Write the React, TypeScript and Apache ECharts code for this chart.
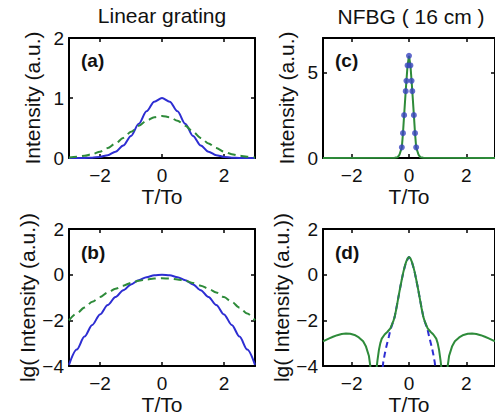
import React, { useEffect, useRef } from 'react';
import * as echarts from 'echarts';

// ---------- data ----------
const T_AB = [-3, -2.75, -2.5, -2.25, -2, -1.75, -1.5, -1.25, -1, -0.75, -0.5, -0.25, 0, 0.25, 0.5, 0.75, 1, 1.25, 1.5, 1.75, 2, 2.25, 2.5, 2.75, 3];
const BLUE_A = [0.0001, 0.0005, 0.002, 0.006, 0.018, 0.047, 0.105, 0.21, 0.368, 0.57, 0.779, 0.939, 1, 0.939, 0.779, 0.57, 0.368, 0.21, 0.105, 0.047, 0.018, 0.006, 0.002, 0.0005, 0.0001];
const GREEN_A = [0.01, 0.02, 0.037, 0.064, 0.106, 0.165, 0.242, 0.335, 0.437, 0.537, 0.622, 0.68, 0.7, 0.68, 0.622, 0.537, 0.437, 0.335, 0.242, 0.165, 0.106, 0.064, 0.037, 0.02, 0.01];
const BLUE_B = [-3.95, -3.28, -2.71, -2.2, -1.74, -1.33, -0.98, -0.68, -0.43, -0.24, -0.11, -0.03, 0, -0.03, -0.11, -0.24, -0.43, -0.68, -0.98, -1.33, -1.74, -2.2, -2.71, -3.28, -3.95];
const GREEN_B = [-2, -1.7, -1.44, -1.19, -0.98, -0.78, -0.62, -0.48, -0.36, -0.27, -0.21, -0.17, -0.155, -0.17, -0.21, -0.27, -0.36, -0.48, -0.62, -0.78, -0.98, -1.19, -1.44, -1.7, -2];

const T_C = [-3, -0.5, -0.4, -0.33, -0.25, -0.21, -0.17, -0.115, -0.09, -0.05, 0, 0.05, 0.09, 0.115, 0.17, 0.21, 0.25, 0.33, 0.4, 0.5, 3];
const GREEN_C = [0, 0.01, 0.04, 0.2, 0.62, 1.45, 2.5, 3.9, 4.5, 5.4, 5.96, 5.4, 4.5, 3.9, 2.5, 1.45, 0.62, 0.2, 0.04, 0.01, 0];
const T_DOTS = [-0.25, -0.21, -0.17, -0.115, -0.09, -0.05, 0, 0.05, 0.09, 0.115, 0.17, 0.21, 0.25];
const DOTS_C = [0.62, 1.45, 2.5, 3.9, 4.5, 5.4, 5.96, 5.4, 4.5, 3.9, 2.5, 1.45, 0.62];

const T_D = [-3, -2.8, -2.65, -2.5, -2.35, -2.2, -2.05, -1.9, -1.75, -1.6, -1.5, -1.4, -1.35, -1.3, -1.2, -1.15, -1.1, -1.05, -1, -0.95, -0.85, -0.75, -0.65, -0.55, -0.5, -0.45, -0.4, -0.35, -0.3, -0.25, -0.2, -0.15, -0.1, -0.05, 0,
  0.05, 0.1, 0.15, 0.2, 0.25, 0.3, 0.35, 0.4, 0.45, 0.5, 0.55, 0.65, 0.75, 0.85, 0.95, 1, 1.05, 1.1, 1.15, 1.2, 1.3, 1.35, 1.4, 1.5, 1.6, 1.75, 1.9, 2.05, 2.2, 2.35, 2.5, 2.65, 2.8, 3];
const GREEN_D = [-2.92, -2.8, -2.72, -2.65, -2.6, -2.58, -2.59, -2.64, -2.75, -2.92, -3.15, -3.55, -4, -4.8, -5, -4.3, -3.75, -3.3, -3, -2.8, -2.62, -2.5, -2.35, -2.05, -1.85, -1.55, -1.2, -0.85, -0.52, -0.2, 0.1, 0.36, 0.56, 0.71, 0.78,
  0.71, 0.56, 0.36, 0.1, -0.2, -0.52, -0.85, -1.2, -1.55, -1.85, -2.05, -2.35, -2.5, -2.62, -2.8, -3, -3.3, -3.75, -4.3, -5, -4.8, -4, -3.55, -3.15, -2.92, -2.75, -2.64, -2.59, -2.58, -2.6, -2.65, -2.72, -2.8, -2.92];
const T_D_BLUE = [-0.95, -0.9, -0.85, -0.8, -0.75, -0.7, -0.65, -0.55, -0.5, -0.4, -0.3, -0.2, -0.1, 0, 0.1, 0.2, 0.3, 0.4, 0.5, 0.55, 0.65, 0.7, 0.75, 0.8, 0.85, 0.9, 0.95];
const BLUE_D = [-4.5, -3.85, -3.5, -3.2, -2.95, -2.7, -2.42, -2.05, -1.85, -1.2, -0.52, 0.1, 0.56, 0.78, 0.56, 0.1, -0.52, -1.2, -1.85, -2.05, -2.42, -2.7, -2.95, -3.2, -3.5, -3.85, -4.5];

const X_TICKS = [-2, 0, 2];
const TITLES = ['Linear grating', 'NFBG ( 16 cm )'];
const PANEL_LABELS = ['(a)', '(c)', '(b)', '(d)'];

// ---------- styling ----------
const FONT = 'Liberation Sans, Arial, Helvetica, sans-serif';
const BLUE = '#2d2dd2';
const GREEN = '#2e8b3a';
const TXT = '#111';

const GRIDS = [
  { left: 69, top: 38, width: 186, height: 120 },
  { left: 323, top: 38, width: 176, height: 120 },
  { left: 69, top: 229, width: 186, height: 137 },
  { left: 323, top: 229, width: 176, height: 137 },
];

const zip = (xs: number[], ys: number[]) => xs.map((x, i) => [x, ys[i]]);
const fmt = (v: number) => String(v).replace('-', '\u2212');

function makeXAxes(g: number) {
  const base = {
    type: 'value', gridIndex: g, min: -3, max: 3,
    splitLine: { show: false },
    axisLine: { show: true, onZero: false, lineStyle: { color: '#000', width: 2 } },
    axisTick: { show: true, inside: true, length: 4, customValues: X_TICKS, lineStyle: { color: '#000', width: 1.5 } },
  };
  return [
    {
      ...base, position: 'bottom',
      axisLabel: { show: true, customValues: X_TICKS, formatter: fmt, fontSize: 19, fontFamily: FONT, color: TXT, margin: 8 },
      name: 'T/To', nameLocation: 'middle', nameGap: 25,
      nameTextStyle: { fontSize: 21, fontFamily: FONT, color: TXT },
    },
    { ...base, position: 'top', axisLabel: { show: false } },
  ];
}

function makeYAxes(g: number, min: number, max: number, ticks: number[], name: string) {
  const base = {
    type: 'value', gridIndex: g, min, max,
    splitLine: { show: false },
    axisLine: { show: true, onZero: false, lineStyle: { color: '#000', width: 2 } },
    axisTick: { show: true, inside: true, length: 4, customValues: ticks, lineStyle: { color: '#000', width: 1.5 } },
  };
  return [
    {
      ...base, position: 'left',
      axisLabel: { show: true, customValues: ticks, formatter: fmt, fontSize: 19, fontFamily: FONT, color: TXT, margin: 5 },
      name, nameLocation: 'middle', nameGap: 26,
      nameTextStyle: { fontSize: 21, fontFamily: FONT, color: TXT },
    },
    { ...base, position: 'right', axisLabel: { show: false } },
  ];
}

const option: any = {
  animation: false,
  backgroundColor: '#fff',
  grid: GRIDS.map((g) => ({ ...g, containLabel: false })),
  xAxis: [0, 1, 2, 3].flatMap((g) => makeXAxes(g)),
  yAxis: [
    ...makeYAxes(0, 0, 2, [0, 1, 2], 'Intensity (a.u.)'),
    ...makeYAxes(1, 0, 7, [0, 5], 'Intensity (a.u.)'),
    ...makeYAxes(2, -4, 2, [-4, -2, 0, 2], 'lg( Intensity (a.u.))'),
    ...makeYAxes(3, -4, 2, [-4, -2, 0, 2], 'lg( Intensity (a.u.))'),
  ],
  series: [
    { type: 'line', xAxisIndex: 0, yAxisIndex: 0, data: zip(T_AB, BLUE_A), showSymbol: false, smooth: 0.3, smoothMonotone: 'x', clip: true, lineStyle: { color: BLUE, width: 2 }, z: 3 },
    { type: 'line', xAxisIndex: 0, yAxisIndex: 0, data: zip(T_AB, GREEN_A), showSymbol: false, smooth: 0.3, smoothMonotone: 'x', clip: true, lineStyle: { color: GREEN, width: 2, type: [8, 5] }, z: 4 },
    { type: 'line', xAxisIndex: 2, yAxisIndex: 2, data: zip(T_C, GREEN_C), showSymbol: false, clip: true, lineStyle: { color: GREEN, width: 2 }, z: 3 },
    { type: 'scatter', xAxisIndex: 2, yAxisIndex: 2, data: zip(T_DOTS, DOTS_C), symbolSize: 6, itemStyle: { color: '#3a45c0' }, z: 5 },
    { type: 'line', xAxisIndex: 4, yAxisIndex: 4, data: zip(T_AB, BLUE_B), showSymbol: false, smooth: 0.3, smoothMonotone: 'x', clip: true, lineStyle: { color: BLUE, width: 2 }, z: 3 },
    { type: 'line', xAxisIndex: 4, yAxisIndex: 4, data: zip(T_AB, GREEN_B), showSymbol: false, smooth: 0.3, smoothMonotone: 'x', clip: true, lineStyle: { color: GREEN, width: 2, type: [8, 5] }, z: 4 },
    { type: 'line', xAxisIndex: 6, yAxisIndex: 6, data: zip(T_D_BLUE, BLUE_D), showSymbol: false, clip: true, lineStyle: { color: BLUE, width: 2, type: [6, 4] }, z: 3 },
    { type: 'line', xAxisIndex: 6, yAxisIndex: 6, data: zip(T_D, GREEN_D), showSymbol: false, clip: true, lineStyle: { color: GREEN, width: 2 }, z: 4 },
  ],
  graphic: [
    { type: 'text', x: 162, y: 15, style: { text: TITLES[0], fontSize: 21, fontFamily: FONT, fill: TXT, align: 'center', verticalAlign: 'middle' } },
    { type: 'text', x: 411, y: 16, style: { text: TITLES[1], fontSize: 21, fontFamily: FONT, fill: TXT, align: 'center', verticalAlign: 'middle' } },
    { type: 'text', x: 81, y: 60, style: { text: PANEL_LABELS[0], fontSize: 19, fontWeight: 'bold', fontFamily: FONT, fill: TXT, align: 'left', verticalAlign: 'middle' } },
    { type: 'text', x: 335, y: 60, style: { text: PANEL_LABELS[1], fontSize: 19, fontWeight: 'bold', fontFamily: FONT, fill: TXT, align: 'left', verticalAlign: 'middle' } },
    { type: 'text', x: 81, y: 252, style: { text: PANEL_LABELS[2], fontSize: 19, fontWeight: 'bold', fontFamily: FONT, fill: TXT, align: 'left', verticalAlign: 'middle' } },
    { type: 'text', x: 335, y: 252, style: { text: PANEL_LABELS[3], fontSize: 19, fontWeight: 'bold', fontFamily: FONT, fill: TXT, align: 'left', verticalAlign: 'middle' } },
  ],
};

export default function App() {
  const ref = useRef<HTMLDivElement>(null);
  useEffect(() => {
    const chart = echarts.init(ref.current!, null, { renderer: 'svg' });
    chart.setOption(option);
    return () => chart.dispose();
  }, []);
  return (
    <div
      ref={ref}
      style={{ position: 'fixed', left: 0, top: 0, width: 495, height: 416, background: '#fff' }}
    />
  );
}
